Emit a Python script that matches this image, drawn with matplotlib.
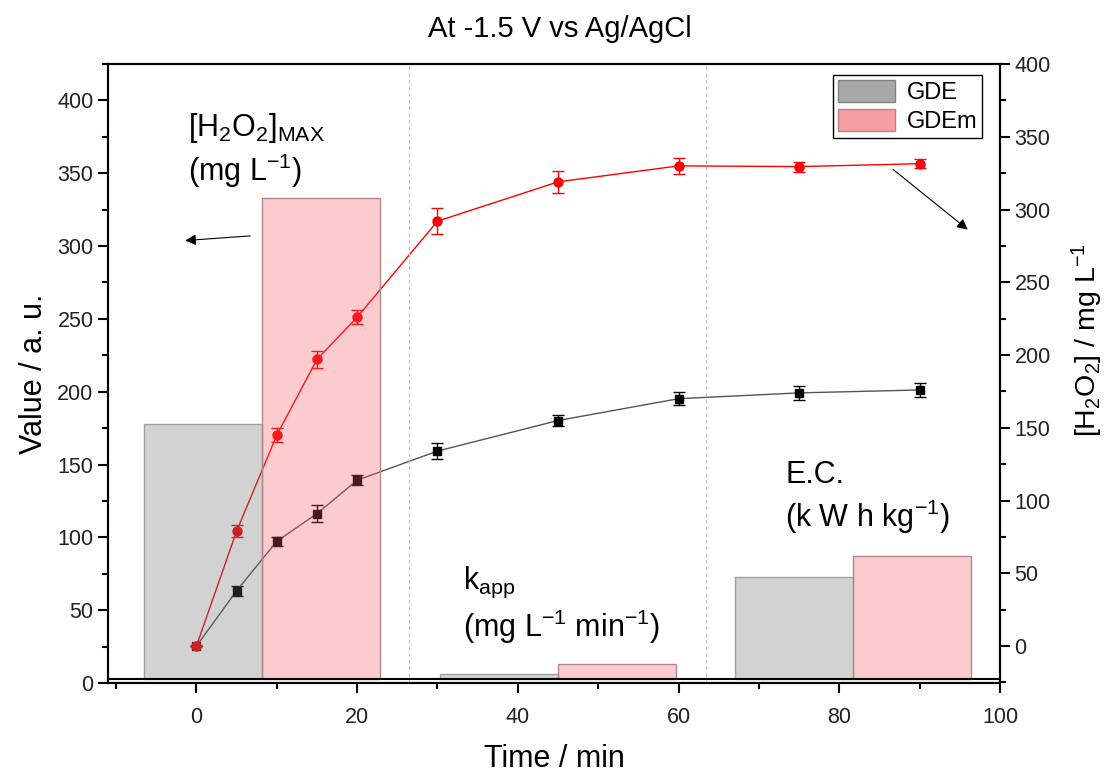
import numpy as np
import matplotlib
matplotlib.use("Agg")
import matplotlib.pyplot as plt
from matplotlib.patches import Patch
from matplotlib.ticker import MultipleLocator

plt.rcParams['font.family'] = ['Liberation Sans', 'DejaVu Sans']
plt.rcParams['mathtext.fontset'] = 'custom'
plt.rcParams['mathtext.rm'] = 'Liberation Sans'
plt.rcParams['mathtext.it'] = 'Liberation Sans'
plt.rcParams['mathtext.default'] = 'regular'

# H2O2 accumulation (right axis, mg/L)
time = [0, 5, 10, 15, 20, 30, 45, 60, 75, 90]
gde = [0, 38, 72, 91, 114, 134, 155, 170, 174, 176]
gde_err = [0, 3.5, 3, 6, 3.5, 5.5, 3.5, 4.5, 5, 5]
gdem = [0, 79, 145, 197, 226, 292, 319, 330, 329.5, 331.5]
gdem_err = [0, 4, 5, 6, 5, 9, 7.5, 5.5, 3.5, 3]

# bar groups (left axis, a.u.): [H2O2]max, kapp, E.C.
bar_x = [8.2, 45.0, 81.7]
gde_bars = [178, 6, 73]
gdem_bars = [333, 13, 87]
bar_w = 14.7
base = 2.5

fig = plt.figure(figsize=(11.07, 7.76), dpi=100)
ax = fig.add_axes([0.0976, 0.1198, 0.8057, 0.7977])
ax2 = ax.twinx()

# lines go on the right axis, the bars sit on top of them, see-through
ax2.errorbar(time, gde, yerr=gde_err, color='black', marker='s', ms=5.5, lw=1,
             capsize=4, elinewidth=1, capthick=1)
ax2.errorbar(time, gdem, yerr=gdem_err, color='red', marker='o', ms=6.5, lw=1,
             capsize=4, elinewidth=1, capthick=1)
ax2.lines[0].set_color('#555555')
ax2.lines[0].set_markerfacecolor('black')
ax2.lines[0].set_markeredgecolor('black')

bx = np.array(bar_x)
ax.bar(bx - bar_w / 2, np.array(gde_bars) - base, bottom=base, width=bar_w,
       facecolor=(108 / 255, 108 / 255, 108 / 255, 0.3), edgecolor='#a0a0a0', lw=1)
ax.bar(bx + bar_w / 2, np.array(gdem_bars) - base, bottom=base, width=bar_w,
       facecolor=(245 / 255, 85 / 255, 95 / 255, 0.3), edgecolor='#b08a8a', lw=1)

ax.set_zorder(ax2.get_zorder() + 1)
ax.patch.set_visible(False)

ax.axhline(base, color='black', lw=1.5)
for xv in [26.4, 63.4]:
    ax.axvline(xv, color='#c0c0c0', lw=0.8, ls=(0, (3, 3)))

ax.set_xlim(-11, 100)
ax.set_ylim(0, 425)
ax2.set_ylim(-25.4, 400)

ax.xaxis.set_major_locator(MultipleLocator(20))
ax.xaxis.set_minor_locator(MultipleLocator(10))
ax.yaxis.set_major_locator(MultipleLocator(50))
ax.yaxis.set_minor_locator(MultipleLocator(25))
ax2.yaxis.set_major_locator(MultipleLocator(50))
ax2.yaxis.set_minor_locator(MultipleLocator(25))

for a in (ax, ax2):
    a.tick_params(which='major', direction='out', length=7, width=1.5,
                  labelsize=15.5, labelcolor='#222222')
    a.tick_params(which='minor', direction='out', length=4, width=1.5)
    for s in a.spines.values():
        s.set_linewidth(1.5)
ax.tick_params(axis='x', pad=10)

ax.set_xlabel('Time / min', fontsize=22, labelpad=12)
ax.set_ylabel('Value / a. u.', fontsize=22, labelpad=6)
ax2.set_ylabel('[H$_2$O$_2$] / mg L$^{-1}$', fontsize=20.5)
ax2.yaxis.set_label_coords(1.078, 0.554)

fig.text(0.506, 0.962, 'At -1.5 V vs Ag/AgCl', ha='center', va='center', fontsize=21)

ax.text(-1.1, 393, '[H$_2$O$_2$]$_{MAX}$\n(mg L$^{-1}$)', fontsize=22,
        va='top', ha='left', linespacing=1.25)
ax.text(33.2, 81, 'k$_{app}$\n(mg L$^{-1}$ min$^{-1}$)', fontsize=22,
        va='top', ha='left', linespacing=1.25)
ax.text(73.3, 153, 'E.C.\n(k W h kg$^{-1}$)', fontsize=22,
        va='top', ha='left', linespacing=1.25)

arrow = dict(arrowstyle='-|>', color='black', lw=0.8, mutation_scale=16,
             shrinkA=0, shrinkB=0)
ax.annotate('', xy=(-1.4, 303.8), xytext=(6.7, 307), arrowprops=arrow)
ax.annotate('', xy=(96.0, 311.3), xytext=(86.7, 352.6), arrowprops=arrow)

handles = [Patch(facecolor='#a8a8a8', edgecolor='#808080', label='GDE'),
           Patch(facecolor='#f4a0a0', edgecolor='#c08080', label='GDEm')]
leg = ax.legend(handles=handles, loc='upper right', bbox_to_anchor=(0.985, 0.99),
                fontsize=17, fancybox=False, edgecolor='black', framealpha=1,
                handlelength=2.4, handleheight=1.1, borderpad=0.2,
                labelspacing=0.2, handletextpad=0.5, borderaxespad=0.2)
leg.get_frame().set_linewidth(1)

fig.savefig('out.png', dpi=100)
